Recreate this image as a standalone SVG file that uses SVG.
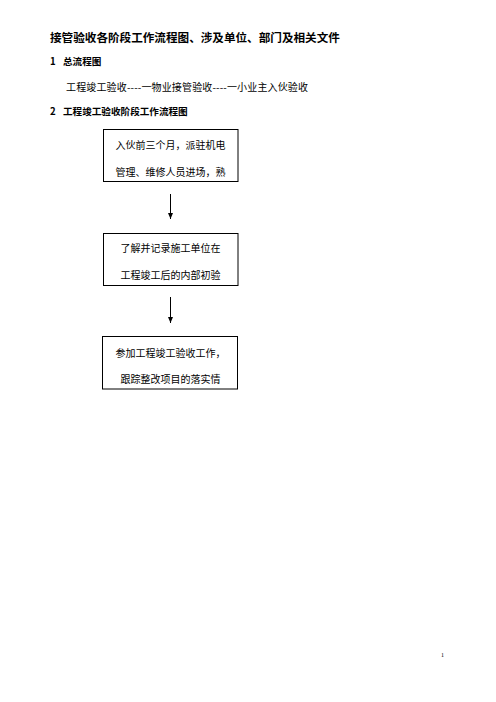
<svg xmlns="http://www.w3.org/2000/svg" width="496" height="702" viewBox="0 0 496 702">
<style>
text{font-family:"Noto Sans CJK SC","Liberation Sans",sans-serif;fill:#000}
.t{font-size:11.6px;font-weight:bold}
.h{font-size:9.6px;font-weight:bold}
.p{font-size:10px}
.b{font-size:10px;text-anchor:middle}
.box{fill:#fff;stroke:#000;stroke-width:1}
.con{stroke:#000;stroke-width:1;fill:none}
</style>
<defs>
<marker id="ah" viewBox="0 0 6 6" refX="6" refY="3" markerWidth="6" markerHeight="6" markerUnits="userSpaceOnUse" orient="auto">
<path d="M0,0.5 L6,3 L0,5.5 z" fill="#000"/>
</marker>
</defs>
<rect width="496" height="702" fill="#fff"/>
<text class="t" x="50" y="42">接管验收各阶段工作流程图、涉及单位、部门及相关文件</text>
<text class="h" x="50" y="65">1<tspan x="63">总流程图</tspan></text>
<text class="p" x="66" y="91" textLength="242" lengthAdjust="spacing">工程竣工验收----一物业接管验收----一小业主入伙验收</text>
<text class="h" x="50" y="115">2<tspan x="63">工程竣工验收阶段工作流程图</tspan></text>
<g id="node1">
<rect class="box" x="103.5" y="129.5" width="134.5" height="52"/>
<text class="b" x="170.5" y="149">入伙前三个月，派驻机电</text>
<text class="b" x="170.5" y="176">管理、维修人员进场，熟</text>
</g>
<g id="node2">
<rect class="box" x="103.5" y="233.5" width="134.5" height="52"/>
<text class="b" x="170.5" y="252">了解并记录施工单位在</text>
<text class="b" x="170.5" y="279">工程竣工后的内部初验</text>
</g>
<g id="node3">
<rect class="box" x="102.5" y="336.5" width="135" height="52.5"/>
<text class="b" x="170.5" y="356.5">参加工程竣工验收工作，</text>
<text class="b" x="170.5" y="383">跟踪整改项目的落实情</text>
</g>
<g id="connectors">
<line class="con" x1="170.5" y1="194" x2="170.5" y2="219" marker-end="url(#ah)"/>
<line class="con" x1="170.5" y1="297" x2="170.5" y2="323" marker-end="url(#ah)"/>
</g>
<text x="441" y="657" style="font-family:'Liberation Serif',serif;font-size:6px">1</text>
</svg>
